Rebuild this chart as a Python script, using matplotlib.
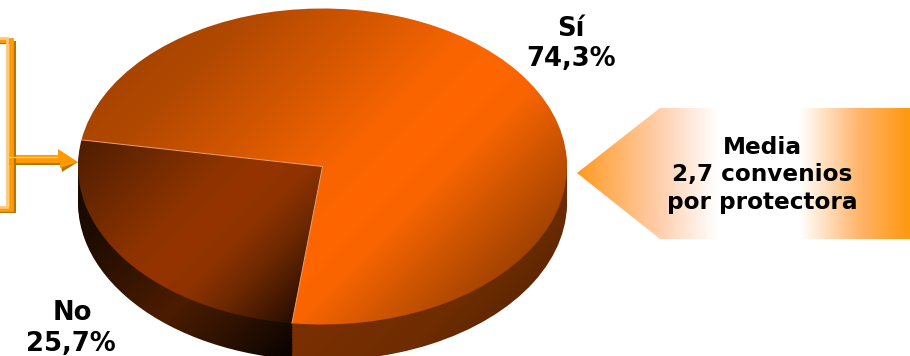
import numpy as np
from matplotlib import pyplot as plt
from matplotlib.colors import to_rgb
from matplotlib.patches import Polygon

# pie data
labels = ['No', 'Sí']
values = [25.7, 74.3]
value_text = ['25,7%', '74,3%']
callout_lines = ['Media', '2,7 convenios', 'por protectora']

start_angle = 170.3
cx, cy = 322.5, 166.5
rx, ry = 244.5, 158.0
depth = 36

W, H = 910, 356
X, Y = np.meshgrid(np.arange(W) + 0.5, np.arange(H) + 0.5)


def ramp(u, stops, colors):
    rgb = np.array([to_rgb(c) for c in colors])
    return np.dstack([np.interp(u, stops, rgb[:, i]) for i in range(3)])


fig = plt.figure(figsize=(9.10, 3.56), dpi=100)
ax = fig.add_axes([0, 0, 1, 1])
ax.axis('off')

# gradients run along the diagonal x+y
u = X + Y
top_no = ramp(u, [220, 300, 380, 430, 480, 530, 610],
              ['#4e1c00', '#6c2800', '#8c3200', '#963400', '#8c3200', '#6c2800', '#2c0e00'])
top_si = ramp(u, [120, 260, 400, 500, 560, 620, 700, 800],
              ['#a04000', '#b04800', '#d85800', '#f86400', '#ff6600', '#f86400', '#cc5400', '#983e00'])
wall_no = ramp(u, [230, 330, 480, 560, 640], ['#140800', '#1e0c00', '#4c1c00', '#2e1200', '#0c0400'])
wall_si = ramp(u, [620, 760, 900], ['#7c3000', '#6e2c00', '#4c2000'])

limits = ((0 - cx) / rx, (W - cx) / rx, (cy - H) / ry, cy / ry)


def fill_pie(offset, no_img, si_img):
    wedges, _ = ax.pie(values, startangle=start_angle, radius=1, center=(0, -offset / ry),
                       frame=False, wedgeprops={'facecolor': 'none', 'linewidth': 0})
    for wedge, img in zip(wedges, [no_img, si_img]):
        im = ax.imshow(img, extent=limits, aspect='auto', interpolation='bilinear')
        im.set_clip_path(wedge)


for off in range(depth, 0, -3):
    fill_pie(off, wall_no, wall_si)
fill_pie(0, top_no, top_si)

# thin light edges between the slices
a0 = np.radians(start_angle)
a1 = a0 + np.radians(values[0] * 3.6)
ax.plot([np.cos(a0), 0, np.cos(a1)], [np.sin(a0), 0, np.sin(a1)], color='#e8a070', lw=0.7)

ax.set_aspect('auto')
ax.set_xlim(limits[0], limits[1])
ax.set_ylim(limits[2], limits[3])

# overlay in pixels for the callout, bracket and text
ov = fig.add_axes([0, 0, 1, 1], facecolor='none')
ov.set_xlim(0, W)
ov.set_ylim(H, 0)
ov.axis('off')

callout = Polygon([(577, 173), (660, 108), (910, 108), (910, 239), (660, 239)],
                  closed=True, fc='none', ec='none')
ov.add_patch(callout)
band = ramp(X, [577, 660, 717, 800, 860, 907],
            ['#ff9a20', '#ffcfae', '#ffffff', '#ffffff', '#ffb468', '#ff9912'])
im = ov.imshow(band, extent=(0, W, H, 0), aspect='auto', interpolation='bilinear')
im.set_clip_path(callout)
ov.set_xlim(0, W)
ov.set_ylim(H, 0)

# bracket on the left, shadow then fill then highlight
orange = '#ff9a00'
shadow = '#b47400'
light = '#ffc878'
ov.plot([0, 14, 14, 0], [42, 42, 211, 211], color=shadow, lw=2.2, solid_joinstyle='miter')
ov.plot([0, 10.5, 10.5, 0], [40, 40, 209, 209], color=orange, lw=3.4, solid_joinstyle='miter')
ov.plot([0, 6.8, 6.8, 0], [38, 38, 207, 207], color=light, lw=2, solid_joinstyle='miter')

# arrow into the pie
ov.add_patch(Polygon([(9, 162), (60, 162), (78, 162), (62, 172), (61, 165), (9, 165)],
                     closed=True, fc=shadow, ec='none'))
ov.add_patch(Polygon([(9, 155), (58, 155), (58, 149), (78, 162), (60, 168), (60, 163), (9, 163)],
                     closed=True, fc=orange, ec='none'))
ov.plot([9, 57], [156.5, 156.5], color=light, lw=1)

font = {'family': 'DejaVu Sans', 'weight': 'bold', 'color': 'black', 'ha': 'center', 'va': 'center'}
ov.text(571, 29, labels[1], fontsize=18.6, **font)
ov.text(571, 59, value_text[1], fontsize=18.6, **font)
ov.text(72, 313, labels[0], fontsize=18.6, **font)
ov.text(71, 344, value_text[0], fontsize=18.6, **font)

for line, y in zip(callout_lines, [147, 175, 203]):
    ov.text(762, y, line, fontsize=16.7, **font)

fig.savefig('out.png', dpi=100)
